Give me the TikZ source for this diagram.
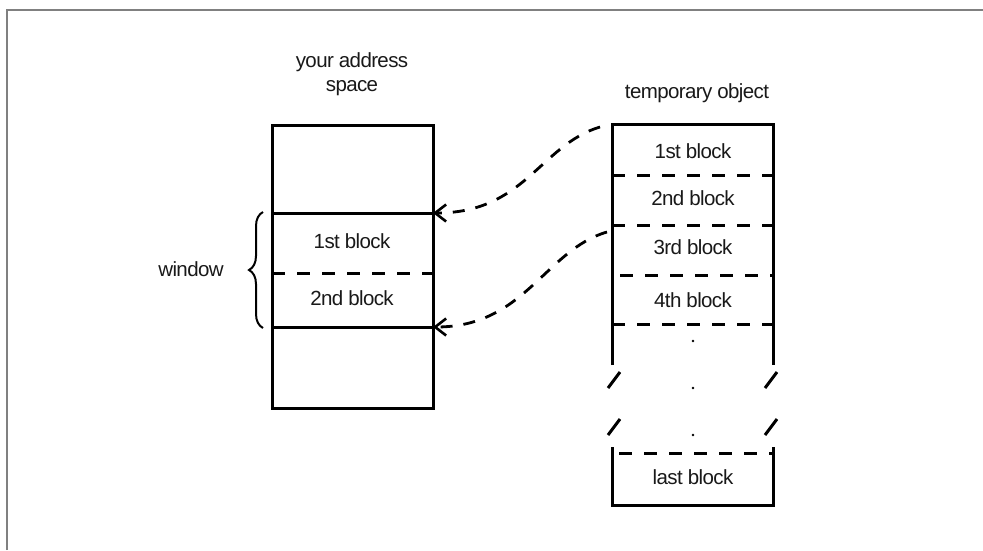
\documentclass[tikz,border=0pt]{standalone}
\usepackage{fontspec}
\setmainfont{Liberation Sans}[LetterSpace=-3]
\usetikzlibrary{decorations.pathreplacing,arrows.meta}
\begin{document}
\begin{tikzpicture}[x=1pt,y=-1pt,
  thick line/.style={line width=3pt, line cap=butt},
  dashline/.style={line width=3pt, dash pattern=on 13pt off 12pt},
  lbl/.style={font=\fontsize{20.5}{24}\selectfont, inner sep=0pt, text=black!90},
  conn/.style={line width=2.8pt, dash pattern=on 12pt off 11pt, -{Straight Barb[length=11pt,width=17pt,line width=2.6pt]}},
  frame/.style={line width=2pt, draw=gray}]
\useasboundingbox (0,0) rectangle (983,550);
\fill[white] (0,0) rectangle (983,550);
\draw[frame] (7,550) -- (7,10) -- (983,10);
% left box
\coordinate (LTL) at (272,125);
\coordinate (LBR) at (433,408);
\draw[thick line] (LTL) rectangle (LBR);
\coordinate (w1l) at (272,213); \coordinate (w1r) at (433,213);
\coordinate (w2l) at (272,327); \coordinate (w2r) at (433,327);
\draw[thick line] (w1l) -- (w1r);
\draw[thick line] (w2l) -- (w2r);
\draw[dashline] (272,273) -- (433,273);
\node[lbl, align=center] (title1) at (352,74) {your address\\space};
\node[lbl] (lb1) at (352,241) {1st block};
\node[lbl] (lb2) at (352,298) {2nd block};
\node[lbl] (win) at (191,269) {window};
\draw[line width=2pt, decorate, decoration={brace, amplitude=14pt}] (263,328) -- (263,212);
% right column
\node[lbl] (title2) at (697,93) {temporary object};
\draw[thick line] (612,365) -- (612,124) -- (773,124) -- (773,365);
\draw[dashline] (612,175) -- (773,175);
\draw[dashline] (612,225) -- (773,225);
\draw[dashline] (620,275) -- (773,275);
\draw[dashline] (612,324) -- (773,324);
\node[lbl] (rb1) at (693,151) {1st block};
\node[lbl] (rb2) at (693,198) {2nd block};
\node[lbl] (rb3) at (693,247) {3rd block};
\node[lbl] (rb4) at (693,300) {4th block};
\foreach \yy in {341,388,435} \fill (693,\yy) circle (1.3pt);
\draw[thick line] (608,388) -- (620,372);
\draw[thick line] (608,435) -- (620,419);
\draw[thick line] (765,388) -- (777,372);
\draw[thick line] (765,435) -- (777,419);
\draw[thick line] (612,447) -- (612,505) -- (773,505) -- (773,447);
\draw[dashline] (619,453) -- (773,453);
\node[lbl] (rbl) at (693,477) {last block};
% connectors
\coordinate (s1) at (600,127);
\coordinate (s2) at (607,232);
\draw[conn] (s1) .. controls (540,145) and (525,213) .. (w1r);
\draw[conn] (s2) .. controls (545,250) and (525,327) .. (w2r);
\end{tikzpicture}
\end{document}
